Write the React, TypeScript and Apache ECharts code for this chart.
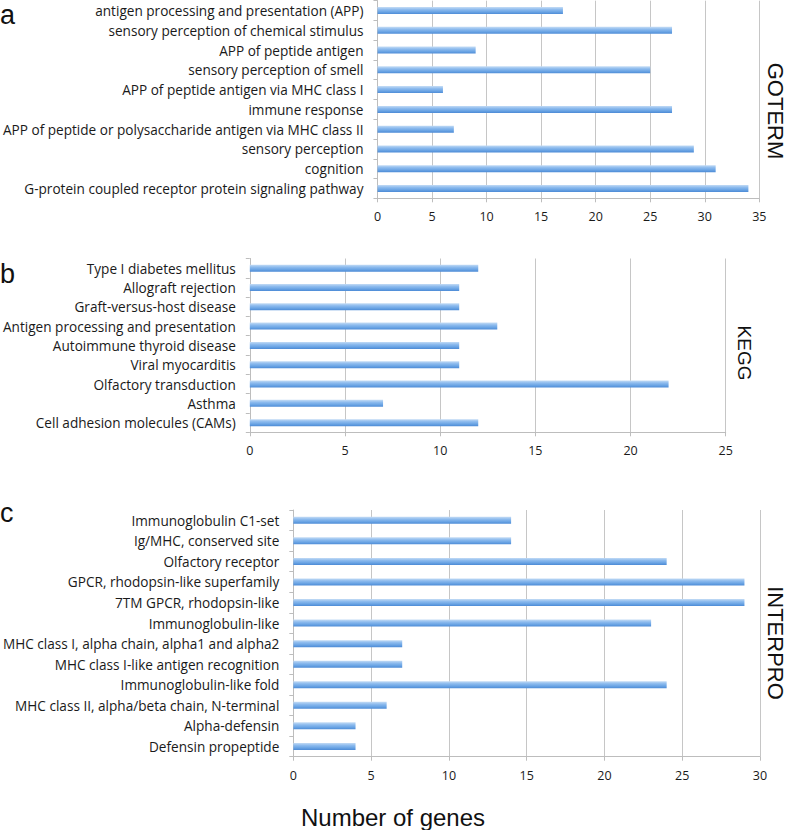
import React, { useEffect, useRef } from "react";
import * as echarts from "echarts";

const goCategories = [
  "antigen processing and presentation (APP)",
  "sensory perception of chemical stimulus",
  "APP of peptide antigen",
  "sensory perception of smell",
  "APP of peptide antigen via MHC class I",
  "immune response",
  "APP of peptide or polysaccharide antigen via MHC class II",
  "sensory perception",
  "cognition",
  "G-protein coupled receptor protein signaling pathway",
];
const goValues = [17, 27, 9, 25, 6, 27, 7, 29, 31, 34];

const keggCategories = [
  "Type I diabetes mellitus",
  "Allograft rejection",
  "Graft-versus-host disease",
  "Antigen processing and presentation",
  "Autoimmune thyroid disease",
  "Viral myocarditis",
  "Olfactory transduction",
  "Asthma",
  "Cell adhesion molecules (CAMs)",
];
const keggValues = [12, 11, 11, 13, 11, 11, 22, 7, 12];

const iprCategories = [
  "Immunoglobulin C1-set",
  "Ig/MHC, conserved site",
  "Olfactory receptor",
  "GPCR, rhodopsin-like superfamily",
  "7TM GPCR, rhodopsin-like",
  "Immunoglobulin-like",
  "MHC class I, alpha chain, alpha1 and alpha2",
  "MHC class I-like antigen recognition",
  "Immunoglobulin-like fold",
  "MHC class II, alpha/beta chain, N-terminal",
  "Alpha-defensin",
  "Defensin propeptide",
];
const iprValues = [14, 14, 24, 29, 29, 23, 7, 7, 24, 6, 4, 4];

const panelMax = [35, 25, 30];
const panelNames = ["GOTERM", "KEGG", "INTERPRO"];
const panelLetters = ["a", "b", "c"];
const xAxisTitle = "Number of genes";

const LABEL_FONT = "'Open Sans', Lato, sans-serif";
const SANS = "'Liberation Sans', Arial, sans-serif";

export default function App() {
  const ref = useRef<HTMLDivElement>(null);
  useEffect(() => {
    document.body.style.margin = "0";
    if (!ref.current) return;
    const chart = echarts.init(ref.current, undefined, { renderer: "svg" });

    const grids = [
      { left: 376.7, top: 0.7, width: 382.6, height: 197.6 },
      { left: 246.7, top: 258.5, width: 479, height: 173.8 },
      { left: 292.3, top: 510, width: 467.7, height: 246.7 },
    ];
    const cats = [goCategories, keggCategories, iprCategories];
    const vals = [goValues, keggValues, iprValues];

    const barColor = new echarts.graphic.LinearGradient(0, 0, 0, 1, [
      { offset: 0, color: "#c4dcf5" },
      { offset: 0.35, color: "#8dbbee" },
      { offset: 0.7, color: "#6aa4e4" },
      { offset: 1, color: "#4d8bd6" },
    ]);

    const option: any = {
      animation: false,
      backgroundColor: "#ffffff",
      grid: grids.map((g) => ({ ...g, containLabel: false })),
      xAxis: grids.map((_, i) => ({
        type: "value",
        gridIndex: i,
        min: 0,
        max: panelMax[i],
        interval: 5,
        axisLine: { show: true, lineStyle: { color: "#bdbdbd", width: 1 } },
        axisTick: { show: true, length: 4, lineStyle: { color: "#bdbdbd" } },
        splitLine: { show: true, lineStyle: { color: "#c6c6c6", width: 1 } },
        axisLabel: {
          color: "#1a1a1a",
          fontSize: 12.5,
          fontFamily: LABEL_FONT,
          margin: 12,
        },
      })),
      yAxis: grids.map((_, i) => ({
        type: "category",
        gridIndex: i,
        inverse: true,
        data: cats[i],
        axisLine: { show: true, lineStyle: { color: "#bdbdbd", width: 1 } },
        axisTick: { show: true, length: 4, lineStyle: { color: "#bdbdbd" } },
        axisLabel: {
          color: "#1a1a1a",
          fontSize: 13.6,
          fontFamily: LABEL_FONT,
          margin: 14,
        },
        splitLine: { show: false },
      })),
      series: grids.map((_, i) => ({
        type: "bar",
        xAxisIndex: i,
        yAxisIndex: i,
        data: vals[i],
        barWidth: 7,
        itemStyle: { color: barColor },
      })),
      graphic: [
        ...panelLetters.map((t, i) => ({
          type: "text",
          left: 0,
          top: [1, 260, 499][i],
          style: { text: t, font: `27px ${SANS}`, fill: "#111" },
        })),
        ...panelNames.map((t, i) => ({
          type: "text",
          x: [775.5, 744.5, 775.5][i],
          y: [111, 353, 643][i],
          rotation: -Math.PI / 2,
          style: {
            text: t,
            font: `${[22, 19, 22][i]}px ${SANS}`,
            fill: "#111",
            textAlign: "center",
            textVerticalAlign: "middle",
          },
        })),
        {
          type: "text",
          x: 393,
          y: 817,
          style: {
            text: xAxisTitle,
            font: `24px ${SANS}`,
            fill: "#111",
            textAlign: "center",
            textVerticalAlign: "middle",
          },
        },
      ],
    };
    chart.setOption(option);
    return () => chart.dispose();
  }, []);
  return <div ref={ref} style={{ width: 787, height: 830 }} />;
}
